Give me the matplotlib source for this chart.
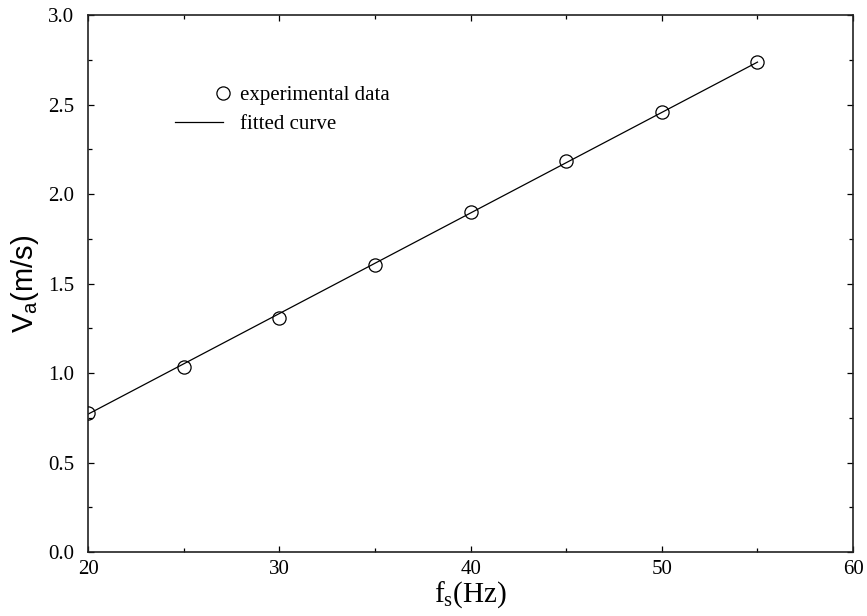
import matplotlib
matplotlib.use("Agg")
import matplotlib.pyplot as plt
from matplotlib.legend_handler import HandlerLine2D
import matplotlib.ticker as mticker

# values
freq_hz = [20, 25, 30, 35, 40, 45, 50, 55]
speed_ms = [0.775, 1.033, 1.307, 1.605, 1.900, 2.185, 2.458, 2.737]

# end points of the fitted straight line
fit_freq = [20, 55]
fit_speed = [0.770, 2.737]

x_ticks = [20, 30, 40, 50, 60]
y_ticks = [0.0, 0.5, 1.0, 1.5, 2.0, 2.5, 3.0]

SERIF = ["Liberation Serif", "DejaVu Serif"]
SANS = ["Liberation Sans", "DejaVu Sans"]


class MarkerAtRight(HandlerLine2D):
    # single legend marker sits at the right end of the handle box
    def get_xdata(self, legend, xdescent, ydescent, width, height, fontsize):
        x_end = -xdescent + width
        return [x_end, x_end], [x_end]


fig = plt.figure(figsize=(8.67, 6.16), dpi=100)
ax = fig.add_axes([0.1015, 0.1039, 0.8825, 0.8717])

pts, = ax.plot(freq_hz, speed_ms, linestyle="none", marker="o", markersize=9.5,
               markerfacecolor="none", markeredgecolor="black",
               markeredgewidth=0.9, label="experimental data", zorder=3)
fit, = ax.plot(fit_freq, fit_speed, color="black", linewidth=0.9,
               label="fitted curve", zorder=2)

ax.set_xlim(x_ticks[0], x_ticks[-1])
ax.set_ylim(y_ticks[0], y_ticks[-1])
ax.set_xticks(x_ticks)
ax.set_yticks(y_ticks)
ax.xaxis.set_minor_locator(mticker.AutoMinorLocator(2))
ax.yaxis.set_minor_locator(mticker.AutoMinorLocator(2))
ax.yaxis.set_major_formatter(mticker.FormatStrFormatter("%.1f"))

ax.tick_params(which="both", direction="in", top=True, right=True,
               width=0.9, color="black")
ax.tick_params(which="major", length=4.5)
ax.tick_params(which="minor", length=2.6)
ax.tick_params(axis="y", which="major", pad=10)
ax.tick_params(axis="x", which="major", pad=6)
for lbl in ax.get_xticklabels() + ax.get_yticklabels():
    lbl.set_fontfamily(SERIF)
    lbl.set_fontsize(15)

for sp in ax.spines.values():
    sp.set_linewidth(1.2)
    sp.set_color("#222222")

ax.set_xlabel(r"f$_{\mathregular{s}}$(Hz)", fontfamily=SERIF, fontsize=21,
              labelpad=0)
ax.set_ylabel(r"V$_{\mathregular{a}}$(m/s)", fontfamily=SANS, fontsize=21,
              labelpad=5)

leg = ax.legend(handles=[pts, fit], frameon=False, loc="upper left",
                bbox_to_anchor=(0.10, 0.888), prop={"family": SERIF, "size": 15},
                handlelength=2.3, handletextpad=0.8, labelspacing=0.45,
                borderpad=0, handler_map={pts: MarkerAtRight()})

fig.savefig("out.png", dpi=100)
